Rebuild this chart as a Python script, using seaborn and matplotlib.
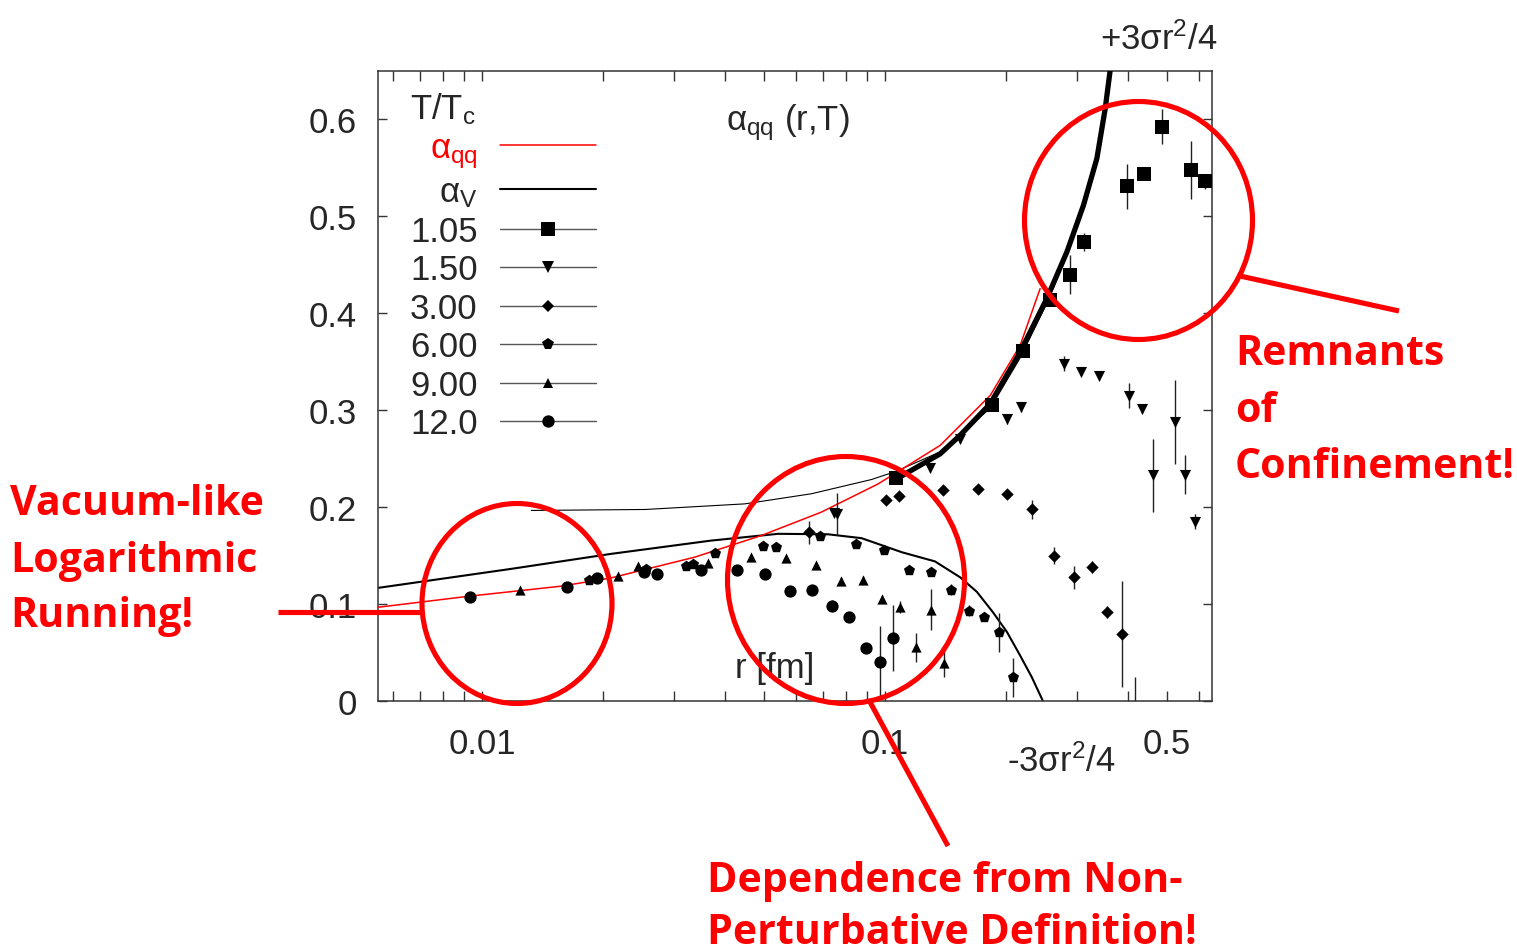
import numpy as np
import pandas as pd
import matplotlib
matplotlib.use("Agg")
import matplotlib.pyplot as plt
import seaborn as sns
from matplotlib.lines import Line2D
from matplotlib.patches import Ellipse
from matplotlib.ticker import FixedLocator, LogLocator, NullFormatter

# ---------------- data ----------------
# alpha_qq (red, thin)
r_qq = [0.00552, 0.00923, 0.01573, 0.0209, 0.0337, 0.0493, 0.0695, 0.0961, 0.1369, 0.1823, 0.2163, 0.2424]
a_qq = [0.0967, 0.108, 0.1185, 0.127, 0.1484, 0.1707, 0.1949, 0.224, 0.2637, 0.3153, 0.367, 0.4255]
# alpha_V with -3 sigma r^2/4 (black, medium)
r_vm = [0.00552, 0.0118, 0.0209, 0.0370, 0.0543, 0.0722, 0.0874, 0.110, 0.133, 0.1534, 0.1689, 0.1851, 0.2005, 0.2163, 0.231, 0.2463]
a_vm = [0.1167, 0.1363, 0.1518, 0.1655, 0.1725, 0.1720, 0.168, 0.1535, 0.144, 0.1277, 0.1126, 0.0916, 0.0713, 0.0468, 0.0248, 0.0]
# alpha_V (black, thin)
r_vt = [0.01325, 0.0254, 0.0449, 0.0656, 0.0925, 0.1065, 0.1369, 0.1823, 0.2163, 0.2517, 0.2825, 0.3105, 0.3352, 0.3617]
a_vt = [0.1966, 0.1976, 0.2034, 0.2138, 0.2285, 0.237, 0.257, 0.302, 0.354, 0.41, 0.46, 0.508, 0.556, 0.648]
# alpha_V with +3 sigma r^2/4 (black, thick)
r_vp = [0.1065, 0.1369, 0.1534, 0.1823, 0.2163, 0.2517, 0.2825, 0.3105, 0.3352, 0.3516, 0.3617]
a_vp = [0.229, 0.255, 0.274, 0.3067, 0.360, 0.415, 0.4634, 0.5115, 0.5597, 0.6114, 0.651]

# lattice data, T/Tc series
r_105 = [0.1065, 0.1846, 0.2197, 0.2566, 0.2867, 0.3106, 0.399, 0.4375, 0.4876, 0.574, 0.622]
a_105 = [0.230, 0.305, 0.3607, 0.4134, 0.440, 0.4737, 0.531, 0.544, 0.5925, 0.5477, 0.536]
e_105 = [0.005, 0.005, 0.006, 0.006, 0.02, 0.009, 0.023, 0.006, 0.018, 0.03, 0.008]

r_150 = [0.0747, 0.0760, 0.1293, 0.153, 0.2005, 0.217, 0.278, 0.306, 0.340, 0.4017, 0.4335, 0.463, 0.524, 0.555, 0.5875]
a_150 = [0.194, 0.193, 0.2403, 0.2706, 0.291, 0.303, 0.348, 0.3394, 0.335, 0.315, 0.3008, 0.2327, 0.2878, 0.2334, 0.185]
e_150 = [0.004, 0.022, 0.004, 0.004, 0.005, 0.005, 0.008, 0.004, 0.004, 0.013, 0.004, 0.038, 0.043, 0.02, 0.008]

r_300 = [0.0648, 0.1006, 0.1085, 0.139, 0.170, 0.2005, 0.232, 0.2627, 0.2944, 0.3257, 0.356, 0.388, 0.417]
a_300 = [0.174, 0.2069, 0.2114, 0.218, 0.219, 0.2138, 0.1976, 0.150, 0.1277, 0.138, 0.0916, 0.0692, -0.03]
e_300 = [0.0117, 0.004, 0.004, 0.004, 0.004, 0.004, 0.01, 0.009, 0.012, 0.006, 0.006, 0.055, 0.055]

r_600 = [0.0184, 0.0255, 0.0320, 0.0333, 0.0378, 0.0498, 0.0537, 0.0688, 0.0846, 0.0996, 0.1149, 0.1303, 0.1458, 0.1616, 0.1764, 0.1919, 0.2075]
a_600 = [0.125, 0.136, 0.1397, 0.141, 0.153, 0.160, 0.1587, 0.170, 0.162, 0.156, 0.1356, 0.133, 0.115, 0.0933, 0.0864, 0.0709, 0.0245]
e_600 = [0.003, 0.003, 0.003, 0.003, 0.003, 0.003, 0.003, 0.003, 0.003, 0.003, 0.003, 0.003, 0.006, 0.006, 0.004, 0.02, 0.02]

r_900 = [0.01245, 0.0217, 0.0244, 0.0364, 0.0465, 0.0569, 0.0675, 0.0775, 0.0881, 0.098, 0.1089, 0.119, 0.1298, 0.140]
a_900 = [0.115, 0.129, 0.139, 0.1425, 0.149, 0.148, 0.1405, 0.124, 0.1246, 0.1053, 0.0967, 0.0555, 0.0943, 0.0389]
e_900 = [0.002, 0.002, 0.002, 0.002, 0.002, 0.002, 0.002, 0.004, 0.004, 0.004, 0.006, 0.015, 0.021, 0.014]

r_120 = [0.00932, 0.01622, 0.0193, 0.0252, 0.0272, 0.0349, 0.0428, 0.0503, 0.0582, 0.0660, 0.0738, 0.0815, 0.0894, 0.0972, 0.1049]
a_120 = [0.1077, 0.118, 0.1267, 0.133, 0.1315, 0.1356, 0.135, 0.1315, 0.114, 0.115, 0.0985, 0.087, 0.0544, 0.0406, 0.0647]
e_120 = [0.002, 0.002, 0.002, 0.002, 0.002, 0.002, 0.002, 0.002, 0.002, 0.003, 0.006, 0.004, 0.004, 0.037, 0.034]

series_labels = ["1.05", "1.50", "3.00", "6.00", "9.00", "12.0"]
series_r = [r_105, r_150, r_300, r_600, r_900, r_120]
series_a = [a_105, a_150, a_300, a_600, a_900, a_120]
series_e = [e_105, e_150, e_300, e_600, e_900, e_120]

x_ticks = [0.01, 0.1, 0.5]
x_tick_labels = ["0.01", "0.1", "0.5"]
y_ticks = [0, 0.1, 0.2, 0.3, 0.4, 0.5, 0.6]
y_tick_labels = ["0", "0.1", "0.2", "0.3", "0.4", "0.5", "0.6"]

# ---------------- styling ----------------
sns.set_style("ticks")
plt.rcParams["font.family"] = ["Liberation Sans", "DejaVu Sans"]
plt.rcParams["mathtext.default"] = "regular"

W, H = 1517, 953
fig = plt.figure(figsize=(W / 100, H / 100), dpi=100)
ax = fig.add_axes([378 / W, 1 - 702 / H, 834 / W, 630 / H])
ax.set_xscale("log")

# curves
sns.lineplot(x=r_vt, y=a_vt, ax=ax, color="black", lw=0.8, sort=False, estimator=None, zorder=2)
sns.lineplot(x=r_vm, y=a_vm, ax=ax, color="black", lw=1.5, sort=False, estimator=None, zorder=2)
sns.lineplot(x=r_qq, y=a_qq, ax=ax, color="red", lw=1.1, sort=False, estimator=None, zorder=3)
sns.lineplot(x=r_vp, y=a_vp, ax=ax, color="black", lw=3.8, sort=False, estimator=None, zorder=4)

markers = ["s", "v", "D", "p", "^", "o"]
sizes = [88, 64, 40, 70, 54, 78]
msz = [9.4, 8.2, 6.4, 8.5, 7.6, 8.9]

for r, a, e, m, s in zip(series_r, series_a, series_e, markers, sizes):
    ax.errorbar(r, a, yerr=e, fmt="none", ecolor="#222222", elinewidth=1.0, capsize=0, zorder=5)
    sns.scatterplot(x=r, y=a, ax=ax, marker=m, s=s, color="black", edgecolor="black",
                    linewidth=0, zorder=6, legend=False)

ax.set_xlim(0.00552, 0.647)
ax.set_ylim(0, 0.65)

ax.xaxis.set_major_locator(FixedLocator(x_ticks))
ax.set_xticklabels(x_tick_labels)
ax.xaxis.set_minor_locator(LogLocator(base=10, subs=np.arange(1, 10), numticks=30))
ax.xaxis.set_minor_formatter(NullFormatter())
ax.set_yticks(y_ticks)
ax.set_yticklabels(y_tick_labels)

ax.tick_params(which="both", direction="in", top=True, right=True, color="#333333",
               width=1.0, labelsize=25)
ax.tick_params(axis="x", which="both", length=7, pad=19)
ax.tick_params(axis="y", which="both", length=6.5, pad=15)
for sp in ax.spines.values():
    sp.set_color("#333333")
    sp.set_linewidth(1.1)
ax.set_xlabel("")
ax.set_ylabel("")

# legend
handles = [Line2D([], [], color="red", lw=1.1),
           Line2D([], [], color="black", lw=1.5)]
for m, ms in zip(markers, msz):
    handles.append(Line2D([], [], color="#555555", lw=1.0, marker=m, markersize=ms,
                          markerfacecolor="black", markeredgecolor="black", markeredgewidth=0))
labels = ["α$_{qq}$", "α$_{V}$"] + series_labels
leg = ax.legend(handles, labels, loc="upper left", bbox_to_anchor=(0.0384, 0.970),
                frameon=False, markerfirst=False, numpoints=1, handlelength=2.77,
                handletextpad=0.63, labelspacing=0.16, fontsize=25,
                title="T/T$_c$", title_fontsize=25, alignment="left",
                borderpad=0, borderaxespad=0)
leg.get_texts()[0].set_color("red")

# labels inside / around the axes
ax.text(0.417, 0.908, "α$_{qq}$ (r,T)", transform=ax.transAxes, fontsize=25,
        ha="left", va="baseline")
ax.text(0.428, 0.038, "r [fm]", transform=ax.transAxes, fontsize=25,
        ha="left", va="baseline")


def fx(x):
    return x / W


def fy(y):
    return 1 - y / H


fig.text(fx(1100), fy(50), "+3σr$^{2}$/4", fontsize=25, ha="left", va="baseline")
fig.text(fx(1007), fy(772), "-3σr$^{2}$/4", fontsize=25, ha="left", va="baseline")

# red annotations
RED = "#ff0000"
for cx, cy, rx, ry in [(517, 604.5, 95, 100), (846, 581, 118.5, 123.5), (1138.5, 221.5, 114, 119)]:
    fig.add_artist(Ellipse((fx(cx), fy(cy)), width=2 * rx / W, height=2 * ry / H,
                           transform=fig.transFigure, fill=False, ec=RED, lw=3.7, zorder=10))
for (x1, y1), (x2, y2) in [((278, 613), (420, 613)), ((870, 703), (948, 847)), ((1240, 277), (1399, 312))]:
    fig.add_artist(Line2D([fx(x1), fx(x2)], [fy(y1), fy(y2)], transform=fig.transFigure,
                          color=RED, lw=3.7, solid_capstyle="butt", zorder=10))

afont = dict(fontsize=29.6, fontweight="bold", color=RED, family=["Open Sans", "DejaVu Sans"],
             ha="left", va="baseline")
for txt, x, y in [("Vacuum-like", 10, 515), ("Logarithmic", 10, 572), ("Running!", 10, 627),
                  ("Remnants", 1235, 365), ("of", 1235, 422), ("Confinement!", 1235, 478),
                  ("Dependence from Non-", 707, 892), ("Perturbative Definition!", 707, 944)]:
    fig.text(fx(x), fy(y), txt, **afont)

fig.savefig("out.png", dpi=100)
